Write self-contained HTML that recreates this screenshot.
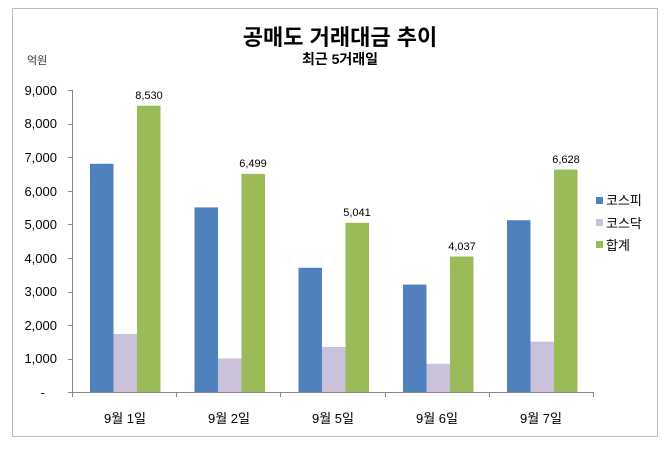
<!DOCTYPE html>
<html><head><meta charset="utf-8"><style>
body{margin:0;background:#fff;}
text{font-family:"Liberation Sans","Noto Sans CJK KR",sans-serif;}
</style></head><body>
<svg width="670" height="454" xmlns="http://www.w3.org/2000/svg">
<rect x="0" y="0" width="670" height="454" fill="#fff"/>
<rect x="12.5" y="8.5" width="645" height="428" fill="none" stroke="#bcbcbc"/>
<text x="340" y="45" font-size="22" font-weight="bold" text-anchor="middle" font-family="'Noto Sans CJK KR',sans-serif">공매도 거래대금 추이</text>
<text x="340" y="64" font-size="14" font-weight="bold" text-anchor="middle" font-family="'Noto Sans CJK KR',sans-serif">최근 5거래일</text>
<text x="27" y="64" font-size="11" fill="#333">억원</text>
<g font-size="13" text-anchor="end" fill="#000">
<text x="57" y="95">9,000</text><text x="57" y="128">8,000</text><text x="57" y="162">7,000</text>
<text x="57" y="196">6,000</text><text x="57" y="229">5,000</text><text x="57" y="263">4,000</text>
<text x="57" y="296">3,000</text><text x="57" y="330">2,000</text><text x="57" y="363">1,000</text>
<text x="45" y="397">-</text>
</g>
<g stroke="#888" stroke-width="1">
<line x1="72.5" y1="90" x2="72.5" y2="392"/>
<line x1="68" y1="90.5" x2="72" y2="90.5"/><line x1="68" y1="124.5" x2="72" y2="124.5"/><line x1="68" y1="157.5" x2="72" y2="157.5"/>
<line x1="68" y1="191.5" x2="72" y2="191.5"/><line x1="68" y1="224.5" x2="72" y2="224.5"/><line x1="68" y1="258.5" x2="72" y2="258.5"/>
<line x1="68" y1="292.5" x2="72" y2="292.5"/><line x1="68" y1="325.5" x2="72" y2="325.5"/><line x1="68" y1="359.5" x2="72" y2="359.5"/>
<line x1="68" y1="392.5" x2="594" y2="392.5"/>
<line x1="72.5" y1="392" x2="72.5" y2="397"/><line x1="176.5" y1="392" x2="176.5" y2="397"/><line x1="280.5" y1="392" x2="280.5" y2="397"/>
<line x1="385.5" y1="392" x2="385.5" y2="397"/><line x1="489.5" y1="392" x2="489.5" y2="397"/><line x1="593.5" y1="392" x2="593.5" y2="397"/>
</g>
<!-- bars: y = 392 - v*0.03356 -->
<g>
<rect x="90" y="163.8" width="23.5" height="228.2" fill="#4f81bd"/>
<rect x="113.5" y="333.9" width="23.5" height="58.1" fill="#ccc1da"/>
<rect x="137" y="105.7" width="23.5" height="286.3" fill="#9bbb59"/>
<rect x="194.5" y="207.4" width="23.5" height="184.6" fill="#4f81bd"/>
<rect x="218" y="358.4" width="23.5" height="33.6" fill="#ccc1da"/>
<rect x="241.5" y="173.9" width="23.5" height="218.1" fill="#9bbb59"/>
<rect x="298.5" y="267.8" width="23.5" height="124.2" fill="#4f81bd"/>
<rect x="322" y="347" width="23.5" height="45" fill="#ccc1da"/>
<rect x="345.5" y="222.8" width="23.5" height="169.2" fill="#9bbb59"/>
<rect x="403" y="284.6" width="23.5" height="107.4" fill="#4f81bd"/>
<rect x="426.5" y="363.8" width="23.5" height="28.2" fill="#ccc1da"/>
<rect x="450" y="256.5" width="23.5" height="135.5" fill="#9bbb59"/>
<rect x="507" y="220.2" width="23.5" height="171.8" fill="#4f81bd"/>
<rect x="530.5" y="341.7" width="23.5" height="50.3" fill="#ccc1da"/>
<rect x="554" y="169.6" width="23.5" height="222.4" fill="#9bbb59"/>
</g>
<g font-size="11" text-anchor="middle">
<text x="149" y="99">8,530</text><text x="253" y="167">6,499</text><text x="357" y="216">5,041</text>
<text x="462" y="250">4,037</text><text x="566" y="163">6,628</text>
</g>
<g font-size="13" text-anchor="middle">
<text x="125" y="423">9월 1일</text><text x="229" y="423">9월 2일</text><text x="333" y="423">9월 5일</text>
<text x="437" y="423">9월 6일</text><text x="541" y="423">9월 7일</text>
</g>
<rect x="596" y="197" width="7" height="7" fill="#4f81bd"/>
<rect x="596" y="219" width="7" height="7" fill="#ccc1da"/>
<rect x="596" y="241" width="7" height="7" fill="#9bbb59"/>
<g font-size="13"><text x="606" y="205">코스피</text><text x="606" y="228">코스닥</text><text x="606" y="250">합계</text></g>
</svg>
</body></html>
